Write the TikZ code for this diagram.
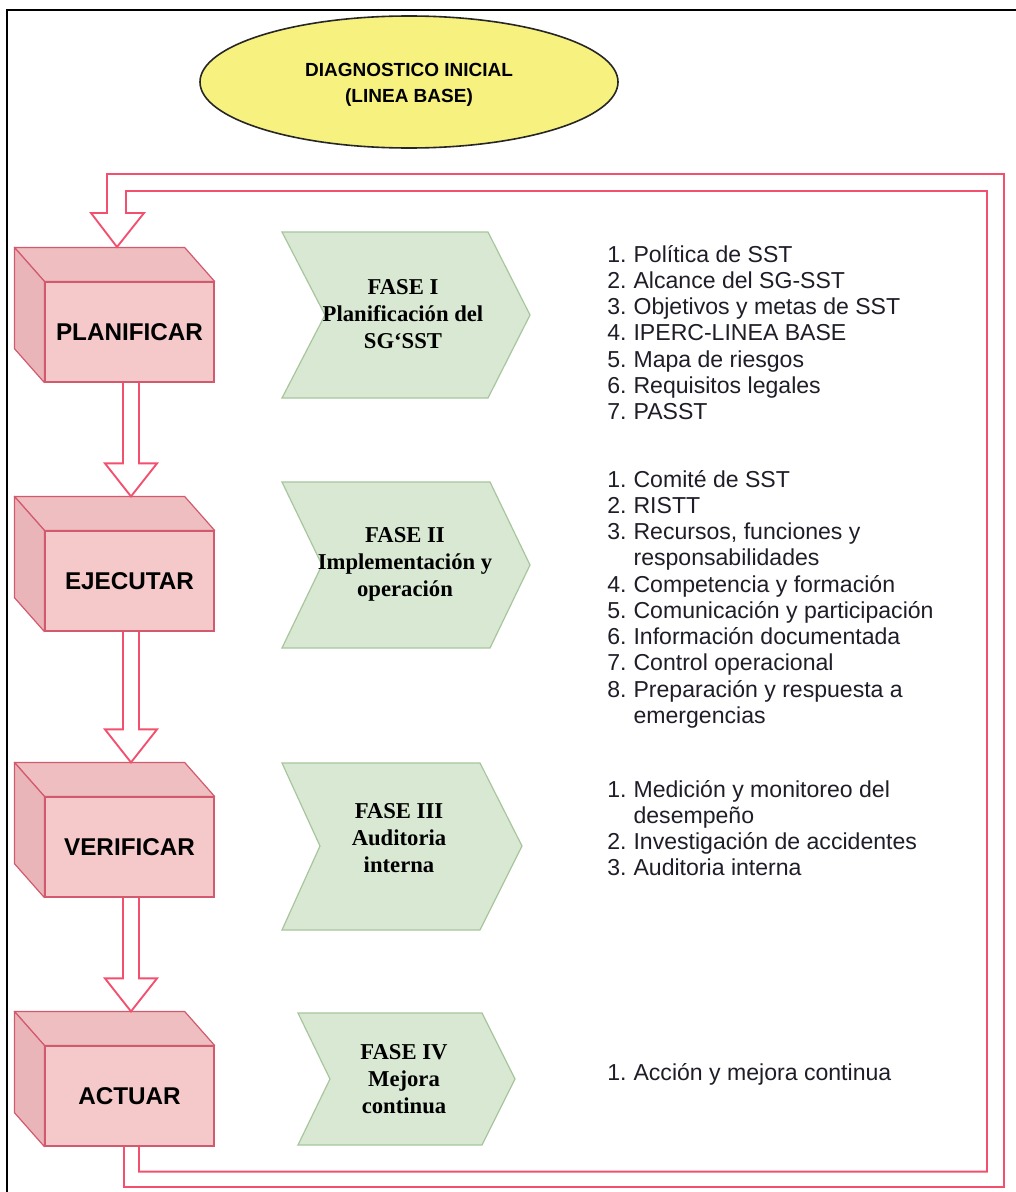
\documentclass[tikz,border=0pt]{standalone}
\usepackage{fontspec}
\setmainfont{Liberation Serif}
\setsansfont{Liberation Sans}
\usetikzlibrary{calc,shapes.geometric}

\definecolor{cubefront}{HTML}{F5C9CA}
\definecolor{cubetop}{HTML}{EEBEC0}
\definecolor{cubeside}{HTML}{EAB5B8}
\definecolor{cubeedge}{HTML}{D25A6E}
\definecolor{flowred}{HTML}{F2506E}
\definecolor{chevfill}{HTML}{D9E8D3}
\definecolor{chevedge}{HTML}{A7C69D}
\definecolor{ovalfill}{HTML}{F7F27F}
\definecolor{listink}{HTML}{1E1E28}

\tikzset{
  cubebox/.style={draw=cubeedge, fill=cubefront, line width=0.9pt,
    minimum width=126.75pt, minimum height=75pt, inner sep=0pt,
    font=\sffamily\bfseries\fontsize{18.2}{20}\selectfont},
  cubeface/.style={draw=cubeedge, line width=0.9pt, line join=round},
  chevron/.style={fill=chevfill, draw=chevedge, line width=0.9pt, line join=miter},
  chevtext/.style={align=center, inner sep=0pt,
    font=\rmfamily\bfseries\fontsize{17}{20.25}\selectfont},
  listnode/.style={anchor=base west, inner sep=0pt, text=listink,
    font=\sffamily\fontsize{17.3}{19.7}\selectfont},
  flowline/.style={draw=flowred, line width=1.4pt, line join=miter},
  oval/.style={ellipse, draw=black!85, fill=ovalfill, line width=1.2pt,
    minimum width=313.5pt, minimum height=99pt, inner sep=0pt},
  ovaltext/.style={align=center, inner sep=0pt,
    font=\sffamily\bfseries\fontsize{14.25}{19.5}\selectfont}
}

% top and left faces of a box whose front face is the node #1
\newcommand\cubefaces[1]{%
  \filldraw[cubeface, fill=cubetop] (#1.north west) -- (#1.north east)
    -- ($(#1.north east)+(-30,-34)$) -- ($(#1.north west)+(-30,-34)$) -- cycle;
  \filldraw[cubeface, fill=cubeside] (#1.north west) -- (#1.south west)
    -- ($(#1.south west)+(-30,-34)$) -- ($(#1.north west)+(-30,-34)$) -- cycle;}

% hollow downward arrow from the bottom of node #1 to the tip coordinate #2
\newcommand\hollowdown[2]{%
  \draw[flowline] ($(#1.south)+(-6.5,0)$) -- ($(#2)+(-8,-33)$) -- ($(#2)+(-26,-33)$)
    -- (#2) -- ($(#2)+(26,-33)$) -- ($(#2)+(8,-33)$) -- ($(#1.south)+(9.5,0)$);}

\newcommand\items[1]{\begin{tabular}[t]{@{}l@{\hspace{5.3pt}}l@{}}#1\end{tabular}}

\begin{document}
\begin{tikzpicture}[x=0.75pt,y=-0.75pt]
\useasboundingbox (0,0) rectangle (1016,1192);
\fill[white] (0,0) rectangle (1016,1192);
\draw[black, line width=1.1pt] (7,1192) -- (7,10) -- (1016,10);

% starting point
\node[oval] (diag) at (409,82) {};
\node[ovaltext] (diagtext) at (409,85) {DIAGNOSTICO INICIAL\\(LINEA BASE)};

% PDCA boxes
\node[cubebox] (plan) at (129.5,332) {PLANIFICAR};
\node[cubebox] (ejec) at (129.5,581) {EJECUTAR};
\node[cubebox] (veri) at (129.5,847) {VERIFICAR};
\node[cubebox] (act)  at (129.5,1096) {ACTUAR};
\cubefaces{plan}
\cubefaces{ejec}
\cubefaces{veri}
\cubefaces{act}

% tips of the arrows on the back edge of each box
\coordinate (planTop) at (117,247);
\coordinate (ejecTop) at ($(ejec.north)+(1.5,-34)$);
\coordinate (veriTop) at ($(veri.north)+(1.5,-34)$);
\coordinate (actTop)  at ($(act.north)+(1.5,-34)$);

\hollowdown{plan}{ejecTop}
\hollowdown{ejec}{veriTop}
\hollowdown{veri}{actTop}

% feedback loop from ACTUAR back to PLANIFICAR
\draw[flowline] ($(act.south)+(-5.5,0)$) |- (1004,1187) |- (107,174)
  -- ($(planTop)+(-10,-34)$) -- ($(planTop)+(-26,-34)$) -- (planTop)
  -- ($(planTop)+(27,-34)$) -- ($(planTop)+(9,-34)$) |- (987,191)
  |- ($(act.south)+(9.5,25)$) -- ($(act.south)+(9.5,0)$);

% phases
\draw[chevron] (282,232) -- (488,232) -- (530,315) -- (488,398) -- (282,398) -- (325,315) -- cycle;
\node[chevtext] (f1) at (403,314) {FASE I\\Planificación del\\SG{\char"60}SST};

\draw[chevron] (282,482) -- (490,482) -- (530,565) -- (490,648) -- (282,648) -- (322,565) -- cycle;
\node[chevtext] (f2) at (405,564) {FASE II\\Implementación y\\operación};

\draw[chevron] (282,763) -- (480,763) -- (522,846) -- (480,930) -- (282,930) -- (320,846) -- cycle;
\node[chevtext] (f3) at (399,838) {FASE III\\Auditoria\\interna};

\draw[chevron] (298,1013) -- (482,1013) -- (515,1079) -- (482,1145) -- (298,1145) -- (330,1079) -- cycle;
\node[chevtext] (f4) at (404,1079) {FASE IV\\Mejora\\continua};

% activities of each phase
\node[listnode] (l1) at (607,262) {\items{
1. & Política de SST\\
2. & Alcance del SG-SST\\
3. & Objetivos y metas de SST\\
4. & IPERC-LINEA BASE\\
5. & Mapa de riesgos\\
6. & Requisitos legales\\
7. & PASST}};

\node[listnode] (l2) at (607,487) {\items{
1. & Comité de SST\\
2. & RISTT\\
3. & Recursos, funciones y\\
   & responsabilidades\\
4. & Competencia y formación\\
5. & Comunicación y participación\\
6. & Información documentada\\
7. & Control operacional\\
8. & Preparación y respuesta a\\
   & emergencias}};

\node[listnode] (l3) at (607,797) {\items{
1. & Medición y monitoreo del\\
   & desempeño\\
2. & Investigación de accidentes\\
3. & Auditoria interna}};

\node[listnode] (l4) at (607,1080) {\items{
1. & Acción y mejora continua}};
\end{tikzpicture}
\end{document}
